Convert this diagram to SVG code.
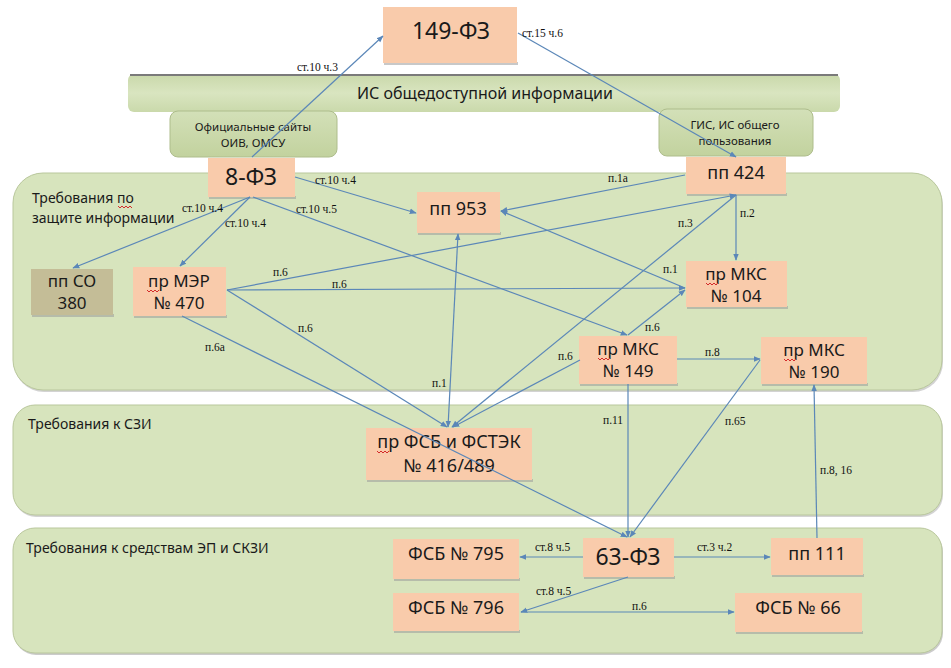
<svg xmlns="http://www.w3.org/2000/svg" width="951" height="668" viewBox="0 0 951 668">
<style>
.band{fill:#d7e4bd;stroke:#b9c79c;stroke-width:1}
.box{fill:#f9cbab;stroke:none}
.shadow{fill:#9a9a9a;opacity:.55}
.bt{font-family:"Noto Sans","Open Sans",sans-serif;font-size:18px;fill:#1a1a1a;text-anchor:middle}
.b2{font-size:17px}
.big{font-size:23px}
.gt{font-family:"Noto Sans","Open Sans",sans-serif;font-size:14px;fill:#1a1a1a}
.st{font-family:"Noto Sans","Open Sans",sans-serif;font-size:11.5px;fill:#1a1a1a;text-anchor:middle}
.lbl{font-family:"Liberation Serif",serif;font-size:11.5px;fill:#111}
.cn{stroke:#5b87b8;stroke-width:1.2;fill:none;marker-end:url(#ah)}
.wv{stroke:#d42a2a;stroke-width:1;fill:none}
</style>
<defs>
<marker id="ah" viewBox="0 0 10 10" refX="9" refY="5" markerWidth="7" markerHeight="7" orient="auto" markerUnits="userSpaceOnUse">
<path d="M0,1 L10,5 L0,9 z" fill="#5b87b8"/>
</marker>
<marker id="as" viewBox="0 0 10 10" refX="1" refY="5" markerWidth="7" markerHeight="7" orient="auto" markerUnits="userSpaceOnUse">
<path d="M10,1 L0,5 L10,9 z" fill="#5b87b8"/>
</marker>
<linearGradient id="gbar" x1="0" y1="0" x2="0" y2="1">
<stop offset="0" stop-color="#c9d8aa"/><stop offset=".5" stop-color="#d9e5c0"/><stop offset="1" stop-color="#cad9ab"/>
</linearGradient>
<linearGradient id="gsub" x1="0" y1="0" x2="0" y2="1">
<stop offset="0" stop-color="#d3e0b8"/><stop offset="1" stop-color="#c2d29e"/>
</linearGradient>
</defs>

<g id="band1"><rect x="14" y="175" width="929" height="217" rx="30" fill="#a8a8a8" opacity=".5"/><rect class="band" x="13" y="173" width="929" height="217" rx="30"/>
<text class="gt" x="32" y="203">Требования по<tspan x="32" y="223">защите информации</tspan></text>
<path class="wv" d="M118,206 l2,2 l2,-2 l2,2 l2,-2 l2,2 l2,-2 l2,2"/></g>
<g id="band2"><rect x="14" y="407" width="929" height="110" rx="22" fill="#a8a8a8" opacity=".5"/><rect class="band" x="13" y="405" width="929" height="110" rx="22"/>
<text class="gt" x="28" y="429">Требования к СЗИ</text></g>
<g id="band3"><rect x="14" y="530" width="929" height="125" rx="22" fill="#a8a8a8" opacity=".6"/><rect class="band" x="13" y="528" width="929" height="125" rx="22"/>
<text class="gt" x="26" y="553">Требования к средствам ЭП и СКЗИ</text></g>

<g id="is-bar"><rect x="128" y="74" width="712" height="38" rx="6" fill="url(#gbar)"/><rect x="130" y="74" width="708" height="2" fill="#7a7a7a"/>
<text class="gt" x="485" y="99" style="font-size:16px;text-anchor:middle">ИС общедоступной информации</text></g>
<g id="oiv"><rect x="170" y="111" width="167" height="46" rx="8" fill="url(#gsub)" stroke="#aebd8c"/>
<text class="st" x="253" y="131">Официальные сайты<tspan x="253" y="147">ОИВ, ОМСУ</tspan></text></g>
<g id="gis"><rect x="659" y="109" width="154" height="47" rx="8" fill="url(#gsub)" stroke="#aebd8c"/>
<text class="st" x="735" y="129">ГИС, ИС общего<tspan x="735" y="145">пользования</tspan></text></g>

<g id="n149fz"><rect class="shadow" x="384" y="62" width="134" height="3"/><rect class="box" x="383" y="7" width="134" height="56"/><text class="bt big" x="451" y="39">149-ФЗ</text></g>
<g id="n8fz"><rect class="shadow" x="209" y="196" width="87" height="3"/><rect class="box" x="208" y="158" width="87" height="39"/><text class="bt big" x="251" y="185">8-ФЗ</text></g>
<g id="pp424"><rect class="shadow" x="687" y="193" width="100" height="3"/><rect class="box" x="686" y="157" width="100" height="37"/><text class="bt" x="736" y="179">пп 424</text></g>
<g id="pp953"><rect class="shadow" x="418" y="232" width="83" height="3"/><rect class="box" x="417" y="192" width="83" height="41"/><text class="bt" x="458" y="215">пп 953</text></g>
<g id="ppso380"><rect class="shadow" x="32" y="314" width="82" height="3"/><rect x="31" y="269" width="82" height="46" fill="#c4bd97"/><text class="bt b2" x="72" y="287">пп СО<tspan x="72" y="309">380</tspan></text></g>
<g id="mer470"><rect class="shadow" x="134" y="315" width="93" height="3"/><rect class="box" x="133" y="267" width="93" height="49"/><text class="bt b2" x="179" y="287">пр МЭР<tspan x="179" y="309">№ 470</tspan></text>
<path class="wv" d="M147,290 l2,2 l2,-2 l2,2 l2,-2 l2,2 l2,-2"/></g>
<g id="mks104"><rect class="shadow" x="687" y="306" width="101" height="3"/><rect class="box" x="686" y="261" width="101" height="46"/><text class="bt b2" x="736" y="280">пр МКС<tspan x="736" y="302">№ 104</tspan></text>
<path class="wv" d="M706,283 l2,2 l2,-2 l2,2 l2,-2 l2,2 l2,-2"/></g>
<g id="mks149"><rect class="shadow" x="580" y="383" width="98" height="3"/><rect class="box" x="579" y="336" width="98" height="48"/><text class="bt b2" x="628" y="355">пр МКС<tspan x="628" y="377">№ 149</tspan></text>
<path class="wv" d="M598,358 l2,2 l2,-2 l2,2 l2,-2 l2,2 l2,-2"/></g>
<g id="mks190"><rect class="shadow" x="762" y="383" width="106" height="3"/><rect class="box" x="761" y="337" width="106" height="47"/><text class="bt b2" x="814" y="356">пр МКС<tspan x="814" y="378">№ 190</tspan></text>
<path class="wv" d="M784,359 l2,2 l2,-2 l2,2 l2,-2 l2,2 l2,-2"/></g>
<g id="fsb416"><rect class="shadow" x="367" y="479" width="166" height="3"/><rect class="box" x="366" y="428" width="166" height="52"/><text class="bt" x="449" y="448">пр ФСБ и ФСТЭК<tspan x="449" y="472">№ 416/489</tspan></text>
<path class="wv" d="M377,451 l2,2 l2,-2 l2,2 l2,-2 l2,2 l2,-2"/></g>
<g id="n63fz"><rect class="shadow" x="584" y="576" width="91" height="3"/><rect class="box" x="583" y="538" width="91" height="39"/><text class="bt big" x="628" y="565">63-ФЗ</text></g>
<g id="fsb795"><rect class="shadow" x="394" y="578" width="126" height="3"/><rect class="box" x="393" y="539" width="126" height="40"/><text class="bt" x="456" y="560">ФСБ № 795</text></g>
<g id="pp111"><rect class="shadow" x="772" y="574" width="92" height="3"/><rect class="box" x="771" y="538" width="92" height="37"/><text class="bt" x="817" y="560">пп 111</text></g>
<g id="fsb796"><rect class="shadow" x="394" y="630" width="126" height="3"/><rect class="box" x="393" y="593" width="126" height="38"/><text class="bt" x="456" y="614">ФСБ № 796</text></g>
<g id="fsb66"><rect class="shadow" x="736" y="631" width="127" height="3"/><rect class="box" x="735" y="593" width="127" height="39"/><text class="bt" x="798" y="614">ФСБ № 66</text></g>

<g id="connectors">
<line class="cn" x1="252" y1="157" x2="383" y2="36"/>
<line class="cn" x1="518" y1="33" x2="736" y2="157"/>
<line class="cn" x1="295" y1="177" x2="416" y2="213"/>
<line class="cn" x1="250" y1="197" x2="73" y2="268"/>
<line class="cn" x1="250" y1="197" x2="180" y2="266"/>
<line class="cn" x1="253" y1="197" x2="627" y2="335"/>
<line class="cn" x1="685" y1="175" x2="501" y2="211"/>
<line class="cn" x1="736" y1="195" x2="736" y2="260"/>
<line class="cn" x1="736" y1="195" x2="452" y2="427"/>
<line class="cn" x1="227" y1="290" x2="736" y2="195"/>
<line class="cn" x1="227" y1="290" x2="685" y2="288"/>
<line class="cn" x1="227" y1="290" x2="447" y2="427"/>
<line class="cn" x1="182" y1="316" x2="627" y2="537"/>
<line class="cn" x1="458" y1="234" x2="448" y2="427" style="marker-start:url(#as)"/>
<line class="cn" x1="685" y1="288" x2="501" y2="211"/>
<line class="cn" x1="628" y1="335" x2="685" y2="290"/>
<line class="cn" x1="677" y1="359" x2="760" y2="359"/>
<line class="cn" x1="580" y1="360" x2="453" y2="427"/>
<line class="cn" x1="760" y1="360" x2="630" y2="537"/>
<line class="cn" x1="628" y1="384" x2="628" y2="537"/>
<line class="cn" x1="817" y1="538" x2="814" y2="385"/>
<line class="cn" x1="583" y1="557" x2="520" y2="557"/>
<line class="cn" x1="674" y1="557" x2="770" y2="557"/>
<line class="cn" x1="628" y1="577" x2="521" y2="612"/>
<line class="cn" x1="521" y1="612" x2="734" y2="612"/>
</g>

<g id="labels">
<text class="lbl" x="297" y="71">ст.10 ч.3</text>
<text class="lbl" x="522" y="37">ст.15 ч.6</text>
<text class="lbl" x="315" y="184">ст.10 ч.4</text>
<text class="lbl" x="182" y="212">ст.10 ч.4</text>
<text class="lbl" x="225" y="227">ст.10 ч.4</text>
<text class="lbl" x="296" y="213">ст.10 ч.5</text>
<text class="lbl" x="608" y="182">п.1а</text>
<text class="lbl" x="740" y="217">п.2</text>
<text class="lbl" x="678" y="227">п.3</text>
<text class="lbl" x="663" y="273">п.1</text>
<text class="lbl" x="273" y="276">п.6</text>
<text class="lbl" x="332" y="288">п.6</text>
<text class="lbl" x="298" y="332">п.6</text>
<text class="lbl" x="205" y="351">п.6а</text>
<text class="lbl" x="432" y="387">п.1</text>
<text class="lbl" x="645" y="331">п.6</text>
<text class="lbl" x="558" y="360">п.6</text>
<text class="lbl" x="705" y="356">п.8</text>
<text class="lbl" x="603" y="424">п.11</text>
<text class="lbl" x="725" y="425">п.65</text>
<text class="lbl" x="820" y="474">п.8, 16</text>
<text class="lbl" x="535" y="551">ст.8 ч.5</text>
<text class="lbl" x="697" y="551">ст.3 ч.2</text>
<text class="lbl" x="536" y="595">ст.8 ч.5</text>
<text class="lbl" x="632" y="610">п.6</text>
</g>
</svg>
